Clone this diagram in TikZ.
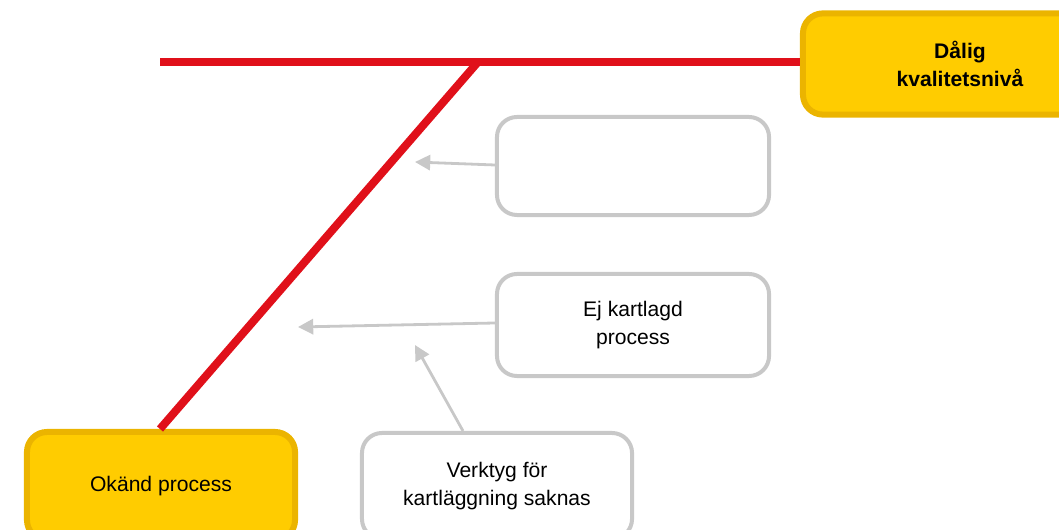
\documentclass[tikz,border=0pt]{standalone}
\usepackage{fontspec}
\setmainfont{Liberation Sans}
\usetikzlibrary{arrows.meta}
\definecolor{fishred}{HTML}{E0101A}
\definecolor{headfill}{HTML}{FFCC00}
\definecolor{headline}{HTML}{EBB400}
\definecolor{causegray}{HTML}{C8C8C8}
\tikzstyle{bone} = [line width=0.2cm, draw=fishred]
\tikzstyle{arrow} = [line width=0.07cm, draw=causegray, -{Triangle[length=0.38cm,width=0.38cm]}]
\tikzstyle{head} = [rectangle, rounded corners=0.5cm, draw=headline, fill=headfill, line width=0.15cm, text centered, align=center, font=\fontsize{15}{20}\selectfont]
\tikzstyle{cause} = [rectangle, rounded corners=0.5cm, draw=causegray, fill=white, line width=0.1cm, minimum width=6.8cm, text centered, align=center, font=\fontsize{15}{20}\selectfont]

\begin{document}
\begin{tikzpicture}[x=0.025cm, y=-0.025cm]
        \useasboundingbox (0,0) rectangle (1059,530);
        \clip (0,0) rectangle (1059,530);
        \node (problem) [head, minimum width=7.85cm, minimum height=2.53cm, font=\fontsize{15}{20}\selectfont\bfseries] at (960,64) {Dålig\\kvalitetsnivå};
        \node (category) [head, minimum width=6.7cm, minimum height=2.7cm] at (161,486) {Okänd process};
        \node (empty) [cause, minimum height=2.45cm] at (633,166) {};
        \node (mapped) [cause, minimum height=2.55cm] at (633,325) {Ej kartlagd\\process};
        \node (tools) [cause, minimum width=6.75cm, minimum height=2.65cm] at (497,486) {Verktyg för\\kartläggning saknas};
        \coordinate (spine) at (160,62);
        \coordinate (joint) at (478,62);
        \coordinate (tipa) at (415,162);
        \coordinate (tipb) at (298,327);
        \coordinate (tipc) at (415,345);
        % backbone and category bone
        \draw [bone] (spine) -- (problem.west |- spine);
        \draw [bone] (joint) -- (category.north -| 160,0);
        % causes pointing at the bone
        \draw [arrow] (empty.west |- 0,165) -- (tipa);
        \draw [arrow] (mapped.west |- 0,323) -- (tipb);
        \draw [arrow] (tools.north -| 463,0) -- (tipc);
    \end{tikzpicture}
\end{document}
